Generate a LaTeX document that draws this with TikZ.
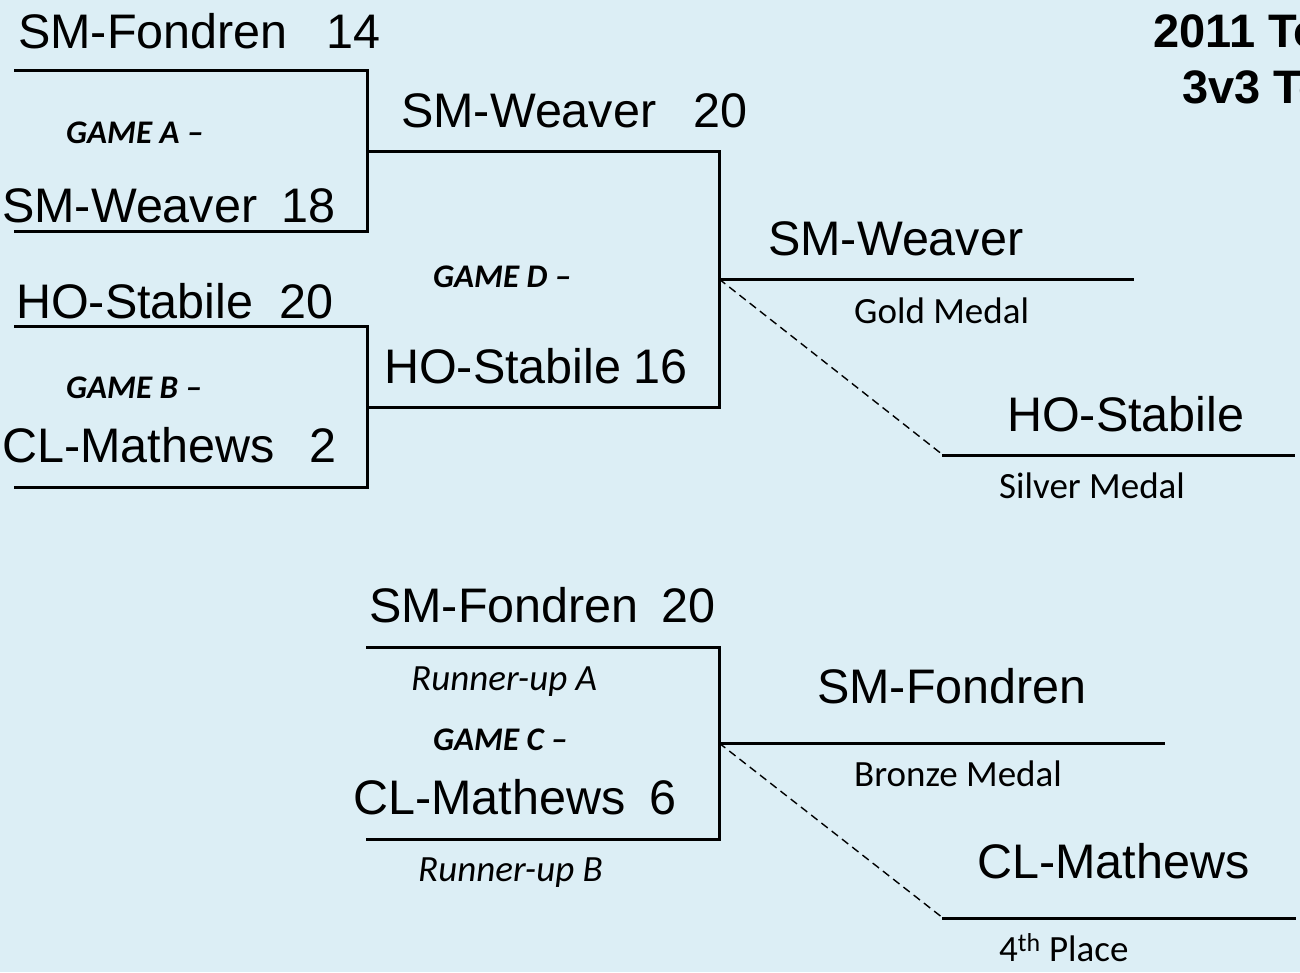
\documentclass[tikz,border=0pt]{standalone}
\usepackage{fontspec}
\setmainfont{Liberation Sans}
\newfontfamily\calib{Carlito}
\definecolor{bgblue}{RGB}{220,238,245}
\tikzset{
  team/.style={anchor=base west,inner sep=0pt,font=\fontsize{48.5}{58}\selectfont},
  ttl/.style={anchor=base west,inner sep=0pt,font=\fontsize{47}{56}\selectfont\bfseries},
  game/.style={anchor=base west,inner sep=0pt,font=\calib\fontsize{33}{39}\selectfont\bfseries\itshape},
  lbl/.style={anchor=base west,inner sep=0pt,font=\calib\fontsize{37}{44}\selectfont},
  ilbl/.style={anchor=base west,inner sep=0pt,font=\calib\fontsize{37}{44}\selectfont\itshape},
  bline/.style={line width=3pt,line cap=rect},
  dline/.style={line width=1.4pt,dash pattern=on 8pt off 5pt}
}
\begin{document}
\begin{tikzpicture}[x=1pt,y=-1pt]
\fill[bgblue] (0,0) rectangle (1300,972);
\useasboundingbox (0,0) rectangle (1300,972);
\clip (0,0) rectangle (1300,972);
% title
\node[ttl] (t1) at (1153,47) {2011 To};
\node[ttl] (t2) at (1182,103) {3v3 To};
% coordinates
\coordinate (a1) at (15,70);  \coordinate (a2) at (367,70);
\coordinate (a3) at (15,231); \coordinate (a4) at (367,231);
\coordinate (am) at (367,151); \coordinate (d1) at (719,151);
\coordinate (b1) at (15,326); \coordinate (b2) at (367,326);
\coordinate (b3) at (15,487); \coordinate (b4) at (367,487);
\coordinate (bm) at (367,407); \coordinate (d2) at (719,407);
\coordinate (dm) at (719,279); \coordinate (g1) at (1132,279);
\coordinate (s0) at (943,455); \coordinate (s1) at (1293,455);
\coordinate (c1) at (367,647); \coordinate (c2) at (719,647);
\coordinate (c3) at (367,839); \coordinate (c4) at (719,839);
\coordinate (cm) at (719,743); \coordinate (br) at (1163,743);
\coordinate (f0) at (943,918); \coordinate (f1) at (1294,918);
% bracket lines
\draw[bline] (a1) -- (a2) -- (a4) -- (a3);
\draw[bline] (am) -- (d1) -- (d2) -- (bm);
\draw[bline] (b1) -- (b2) -- (b4) -- (b3);
\draw[bline] (dm) -- (g1);
\draw[bline] (s0) -- (s1);
\draw[dline] (dm) -- (s0);
\draw[bline] (c1) -- (c2) -- (c4) -- (c3);
\draw[bline] (cm) -- (br);
\draw[bline] (f0) -- (f1);
\draw[dline] (cm) -- (f0);
% teams and scores
\node[team] (n1) at (18,48) {SM-Fondren};   \node[team] (s1n) at (326,48) {14};
\node[team] (n2) at (2,222) {SM-Weaver};    \node[team] (s2n) at (281,222) {18};
\node[team] (n3) at (16,318) {HO-Stabile};  \node[team] (s3n) at (279,318) {20};
\node[team] (n4) at (2,462) {CL-Mathews};   \node[team] (s4n) at (309,462) {2};
\node[team] (n5) at (401,127) {SM-Weaver};  \node[team] (s5n) at (693,127) {20};
\node[team] (n6) at (384,383) {HO-Stabile}; \node[team] (s6n) at (633,383) {16};
\node[team] (n7) at (768,255) {SM-Weaver};
\node[team] (n8) at (1007,431) {HO-Stabile};
\node[team] (n9) at (369,622) {SM-Fondren}; \node[team] (s9n) at (661,622) {20};
\node[team] (n10) at (353,814) {CL-Mathews}; \node[team] (s10n) at (649,814) {6};
\node[team] (n11) at (817,703) {SM-Fondren};
\node[team] (n12) at (977,878) {CL-Mathews};
% game labels
\node[game] (ga) at (66,143) {GAME A –};
\node[game] (gb) at (66,398) {GAME B –};
\node[game] (gd) at (433,287) {GAME D –};
\node[game] (gc) at (433,750) {GAME C –};
% small labels
\node[lbl] (gold) at (854,323) {Gold Medal};
\node[lbl] (silver) at (999,498) {Silver Medal};
\node[lbl] (bronze) at (854,786) {Bronze Medal};
\node[lbl] (fourth) at (999,961) {4\textsuperscript{th} Place};
\node[ilbl] (rua) at (411,690) {Runner-up A};
\node[ilbl] (rub) at (418,881) {Runner-up B};
\end{tikzpicture}
\end{document}
